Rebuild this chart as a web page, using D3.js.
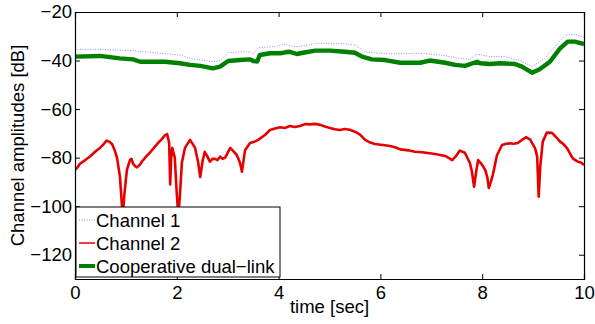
<!DOCTYPE html>
<html><head><meta charset="utf-8">
<script src="https://cdn.jsdelivr.net/npm/d3@7"></script>
<style>body{margin:0;background:#fff}svg{display:block}text{font-family:"Liberation Sans",Arial,sans-serif}</style>
</head><body>
<svg id="c" width="595" height="324"></svg>
<script>
const xTicks=[0,2,4,6,8,10];
const yTicks=[-20,-40,-60,-80,-100,-120];
const seriesNames=["Channel 1","Channel 2","Cooperative dual\u2212link"];
const ch2T=[0,0.05,0.098,0.2,0.295,0.4,0.49,0.56,0.62,0.68,0.73,0.78,0.825,0.884,0.923,0.943,0.97,1.02,1.08,1.11,1.14,1.18,1.22,1.27,1.32,1.4,1.47,1.55,1.63,1.7,1.77,1.81,1.85,1.87,1.89,1.91,1.96,2.0,2.03,2.06,2.1,2.16,2.26,2.36,2.42,2.46,2.51,2.55,2.6,2.65,2.7,2.75,2.8,2.85,2.9,2.95,3.05,3.12,3.18,3.24,3.28,3.34,3.44,3.52,3.6,3.73,3.83,3.93,4.03,4.12,4.22,4.32,4.42,4.52,4.62,4.72,4.82,4.91,5.01,5.11,5.2,5.3,5.4,5.5,5.6,5.7,5.8,5.89,6.05,6.19,6.3,6.39,6.55,6.68,6.82,6.97,7.1,7.27,7.35,7.41,7.48,7.56,7.66,7.76,7.8,7.84,7.88,7.92,8.0,8.06,8.1,8.13,8.17,8.21,8.29,8.39,8.47,8.55,8.62,8.7,8.78,8.86,8.94,9.04,9.08,9.11,9.14,9.19,9.27,9.37,9.45,9.53,9.6,9.67,9.73,9.78,9.83,9.88,9.94,10];
const ch2V=[-85,-84,-82.5,-81,-79.5,-77.5,-76,-74.5,-73,-73.5,-74.5,-77,-80,-88,-100,-103,-95,-85,-81,-80.5,-82.5,-83.5,-84,-83,-81.5,-79.5,-78,-76,-74,-72.5,-70.7,-70.3,-74,-91,-80,-76,-80,-95,-104,-96,-82,-76,-72.7,-76,-82,-88,-81,-77.6,-79.5,-81.7,-80.5,-80.5,-81,-79.6,-80.5,-80,-76,-77.5,-79,-82,-85.8,-77,-74,-73.5,-72.7,-70.7,-68.6,-68,-67.5,-67.8,-67,-67.4,-67,-66.2,-66.3,-66.1,-66.5,-67.2,-67.8,-68.3,-68.6,-68.2,-68.5,-69.3,-70.5,-72.7,-73.8,-74.4,-74.8,-75.2,-75.8,-76.6,-77,-77.6,-77.8,-78.2,-78.6,-79.3,-80.2,-81,-79.5,-77.1,-78,-82.3,-86,-92,-86,-81,-83,-85.1,-88,-92.5,-90,-87,-79,-74.8,-74.3,-74.1,-74.3,-74,-72.7,-71.6,-72.5,-76.2,-79.6,-96.1,-83.7,-73.4,-69.7,-69.8,-71.5,-73.4,-74.5,-76.2,-78.5,-80.3,-81,-81.7,-82,-83];
const coopT=[0,0.49,0.88,1.14,1.28,1.77,2.06,2.26,2.46,2.71,2.85,3.01,3.24,3.44,3.5,3.58,3.63,3.83,4.03,4.13,4.22,4.36,4.48,4.72,5.01,5.3,5.5,5.64,5.83,6.09,6.39,6.78,6.97,7.27,7.47,7.66,7.9,7.96,8.15,8.35,8.64,8.78,8.98,9.13,9.33,9.53,9.68,9.82,10];
const coopV=[-38.4,-38.1,-39.1,-39.5,-40.5,-40.5,-41.1,-41.8,-42.2,-43.2,-42.5,-40.2,-39.8,-39.5,-40.2,-40.4,-37.7,-37,-37,-36.6,-36.4,-37.3,-36.8,-35.9,-35.9,-36.4,-36.8,-38.4,-39.5,-39.8,-40.9,-40.9,-40,-40.9,-41.8,-42.2,-40.5,-41.1,-41.4,-41.1,-41.4,-42.5,-45,-43.6,-40.5,-35,-32.2,-32.2,-33.2];
const ch1T=[0,0.49,1.14,1.67,2.06,2.26,2.71,2.85,3.01,3.24,3.44,3.5,3.6,3.93,4.13,4.32,4.52,4.72,5.21,5.5,5.7,5.89,6.19,6.78,7.17,7.56,7.76,7.9,8.15,8.45,8.74,8.98,9.23,9.43,9.63,9.82,10];
const ch1V=[-35.4,-35.4,-35.9,-37,-37.7,-39.1,-40.5,-40,-36.8,-36.4,-36.4,-37.3,-34.6,-34.3,-33.3,-34.3,-33.9,-32.9,-32.9,-33.6,-36.4,-36.8,-37.3,-37,-37.7,-39.1,-39.5,-37.3,-38.4,-38.4,-40,-42.5,-39.1,-34.3,-29.5,-29.2,-30.4];

const svg=d3.select("#c");
const L=75,R=584,T=12,B=279;
const x=d3.scaleLinear().domain([0,10]).range([L,R]);
const y=d3.scaleLinear().domain([-130,-20]).range([B,T]);
const fmt=d=>d<0?"\u2212"+Math.abs(d):String(d);

svg.append("clipPath").attr("id","clip").append("rect").attr("x",L).attr("y",T).attr("width",R-L).attr("height",B-T);
const g=svg.append("g").attr("clip-path","url(#clip)");
const line=(ts,vs)=>d3.line().x((d,i)=>x(ts[i])).y(d=>y(d))(vs);

g.append("path").attr("d",line(ch2T,ch2V)).attr("fill","none").attr("stroke","#e60000").attr("stroke-width",2.6).attr("stroke-linejoin","round");
g.append("path").attr("d",line(ch1T,ch1V)).attr("fill","none").attr("stroke","#8c8cff").attr("stroke-width",1).attr("stroke-dasharray","1,1.5");
g.append("path").attr("d",line(coopT,coopV)).attr("fill","none").attr("stroke","#008000").attr("stroke-width",4.4).attr("stroke-linejoin","round");

const fs=18.5;
const ax=svg.append("g");
ax.append("g").attr("transform",`translate(0,${B})`).call(d3.axisBottom(x).tickValues(xTicks).tickSize(-5).tickPadding(7).tickFormat(fmt));
ax.append("g").attr("transform",`translate(0,${T})`).call(d3.axisTop(x).tickValues(xTicks).tickSize(-5).tickFormat(""));
ax.append("g").attr("transform",`translate(${L},0)`).call(d3.axisLeft(y).tickValues(yTicks).tickSize(-5).tickPadding(3).tickFormat(fmt));
ax.append("g").attr("transform",`translate(${R},0)`).call(d3.axisRight(y).tickValues(yTicks).tickSize(-5).tickFormat(""));
ax.selectAll(".domain").attr("stroke","#000").attr("stroke-width",1.2);
ax.selectAll(".tick line").attr("stroke","#000");
ax.selectAll(".tick text").attr("font-size",fs).attr("fill","#000").attr("font-family","Liberation Sans, Arial, sans-serif");

svg.append("text").attr("x",x(5)).attr("y",313).attr("text-anchor","middle").attr("font-size",fs).text("time [sec]");
svg.append("text").attr("transform",`translate(24,${(T+B)/2}) rotate(-90)`).attr("text-anchor","middle").attr("font-size",fs).text("Channel amplitudes [dB]");

const lg=svg.append("g");
lg.append("rect").attr("x",76).attr("y",207).attr("width",204).attr("height",70).attr("fill","#fff").attr("stroke","#000").attr("stroke-width",1);
const styles=[{c:"#8c8cff",w:1,d:"1,1.5"},{c:"#e60000",w:1.5,d:null},{c:"#008000",w:4,d:null}];
seriesNames.forEach((n,i)=>{
  const yy=220+i*23;
  const l=lg.append("line").attr("x1",79).attr("x2",95).attr("y1",yy).attr("y2",yy).attr("stroke",styles[i].c).attr("stroke-width",styles[i].w);
  if(styles[i].d) l.attr("stroke-dasharray",styles[i].d);
  lg.append("text").attr("x",96).attr("y",yy+6.5).attr("font-size",fs).text(n);
});
</script>
</body></html>
